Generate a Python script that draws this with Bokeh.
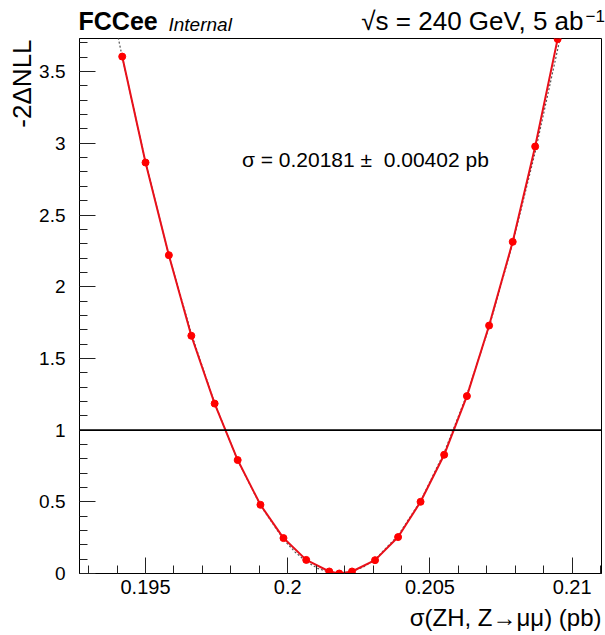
import math
import numpy as np
from bokeh.plotting import figure
from bokeh.layouts import column, row
from bokeh.models import Range1d, FixedTicker, Label, Span
from bokeh.embed import file_html
from bokeh.resources import INLINE

# ---- data ----
scan_x = [0.19418, 0.19500, 0.19582, 0.19661, 0.19743, 0.19824, 0.19904,
          0.19985, 0.20065, 0.20146, 0.20181, 0.20226, 0.20307, 0.20388,
          0.20467, 0.20550, 0.20630, 0.20708, 0.20791, 0.20870, 0.20949]
scan_y = [3.605, 2.866, 2.220, 1.658, 1.185, 0.791, 0.479,
          0.247, 0.095, 0.014, 0.000, 0.014, 0.093, 0.254,
          0.500, 0.828, 1.237, 1.729, 2.313, 2.978, 3.727]

fit_x = [0.19404, 0.19418, 0.19500, 0.19582, 0.19661, 0.19743, 0.19824,
         0.19904, 0.19985, 0.20025, 0.20065, 0.20105, 0.20146, 0.20181,
         0.20226, 0.20266, 0.20307, 0.20388, 0.20467, 0.20550, 0.20630,
         0.20708, 0.20791, 0.20870, 0.20958]
fit_y = [3.736, 3.602, 2.870, 2.220, 1.673, 1.187, 0.789,
         0.475, 0.238, 0.151, 0.083, 0.036, 0.008, 0.000,
         0.013, 0.045, 0.098, 0.265, 0.506, 0.843, 1.248,
         1.719, 2.303, 2.938, 3.736]

x_ticks = [0.195, 0.2, 0.205, 0.21]
x_tick_labels = ["0.195", "0.2", "0.205", "0.21"]
y_ticks = [0, 0.5, 1, 1.5, 2, 2.5, 3, 3.5]
y_tick_labels = ["0", "0.5", "1", "1.5", "2", "2.5", "3", "3.5"]

fit_text = "\u03c3 = 0.20181 \u00b1 \u00a00.00402 pb"
x_title = "\u03c3(ZH, Z\u2192\u03bc\u03bc) (pb)"
y_title = "-2\u0394NLL"
head_bold = "FCCee"
head_italic = "Internal"
head_right = "\u221as = 240 GeV, 5 ab"
head_sup = "\u22121"

FONT = "Liberation Sans"
TOTAL_W, TOTAL_H = 605, 635

# ---- layout pieces ----
HEAD_H = 37          # header strip (picture y 0..37)
LEFT_W = 36          # strip holding the y title
MAIN_W = TOTAL_W - LEFT_W
MAIN_H = 565         # picture y 37..602
FOOT_H = TOTAL_H - HEAD_H - MAIN_H

X0, X1 = 0.192678, 0.211032
Y0, Y1 = 0.0, 3.731


def strip(w, h):
    f = figure(width=w, height=h, output_backend="svg", toolbar_location=None,
               x_range=Range1d(0, w), y_range=Range1d(0, h),
               x_axis_location=None, y_axis_location=None,
               min_border=0, min_border_left=0, min_border_right=0,
               min_border_top=0, min_border_bottom=0)
    f.grid.visible = False
    f.outline_line_color = None
    f.background_fill_color = "white"
    f.border_fill_color = "white"
    return f


def txt(f, x, y, text, size, **kw):
    f.add_layout(Label(x=x, y=y, text=text, text_font=FONT,
                       text_font_size=size, text_color="black", **kw))


# header: picture y (text bottom) -> strip y = HEAD_H - py
head = strip(TOTAL_W, HEAD_H)
txt(head, 78, HEAD_H - 34, head_bold, "25px", text_font_style="bold")
txt(head, 168, HEAD_H - 34, head_italic, "19px", text_font_style="italic")
txt(head, 583, HEAD_H - 35, head_right, "26px", text_align="right")
txt(head, 585, HEAD_H - 21, head_sup, "17px", text_align="left")

# left strip: picture y -> strip y = HEAD_H + MAIN_H - py
left = strip(LEFT_W, MAIN_H)
txt(left, 21.5, HEAD_H + MAIN_H - 38, y_title, "26px", angle=math.pi / 2,
    text_align="right", text_baseline="middle")

# footer: picture y (text bottom) -> strip y = TOTAL_H - py
foot = strip(TOTAL_W, FOOT_H)
txt(foot, 601, TOTAL_H - 630, x_title, "24px", text_align="right")

# main plot
p = figure(width=MAIN_W, height=MAIN_H, output_backend="svg",
           toolbar_location=None,
           x_range=Range1d(X0, X1), y_range=Range1d(Y0, Y1),
           min_border_left=77 - LEFT_W, min_border_right=4,
           min_border_top=1, min_border_bottom=MAIN_H - 1 - 535)
p.grid.visible = False
p.background_fill_color = "white"
p.border_fill_color = "white"
p.outline_line_color = "black"
p.outline_line_width = 1

for ax in (p.xaxis[0], p.yaxis[0]):
    ax.axis_line_color = "black"
    ax.axis_line_width = 1
    ax.major_tick_in = 16
    ax.major_tick_out = 0
    ax.minor_tick_in = 8
    ax.minor_tick_out = 0
    ax.major_tick_line_color = "#222222"
    ax.minor_tick_line_color = "#222222"
    ax.major_label_text_font = FONT
    ax.major_label_text_color = "black"

p.xaxis.major_label_text_font_size = "20px"
p.yaxis.major_label_text_font_size = "19px"
p.xaxis.ticker = FixedTicker(ticks=x_ticks,
                             minor_ticks=[round(v, 3) for v in np.arange(0.193, 0.2115, 0.001)])
p.xaxis.major_label_overrides = {t: s for t, s in zip(x_ticks, x_tick_labels)}
p.xaxis.major_label_standoff = 6
p.yaxis.ticker = FixedTicker(ticks=y_ticks,
                             minor_ticks=[round(v, 1) for v in np.arange(0.0, 3.75, 0.1)])
p.yaxis.major_label_overrides = {t: s for t, s in zip(y_ticks, y_tick_labels)}
p.yaxis.major_label_standoff = 14

# horizontal line at 1
p.add_layout(Span(location=1, dimension="width", line_color="black", line_width=1.6))

# fit curve (dotted) and scan
p.line(fit_x, fit_y, line_color="#555555", line_width=1.2, line_dash="2 2")
p.line(scan_x, scan_y, line_color="#e8101a", line_width=2)
p.scatter(scan_x, scan_y, marker="circle", size=7, fill_color="#ff0000",
          line_color="#ff0000")

# fit result text (inside the frame, data units)
PX_PER_X = 524 / (X1 - X0)
PX_PER_Y = 535 / (Y1 - Y0)
p.add_layout(Label(x=X0 + (240 - 77) / PX_PER_X, y=(573 - 170) / PX_PER_Y,
                   text=fit_text, text_font=FONT, text_font_size="21px",
                   text_color="black"))

layout = column(head, row(left, p), foot)
open("out.html", "w").write(file_html(layout, INLINE))
